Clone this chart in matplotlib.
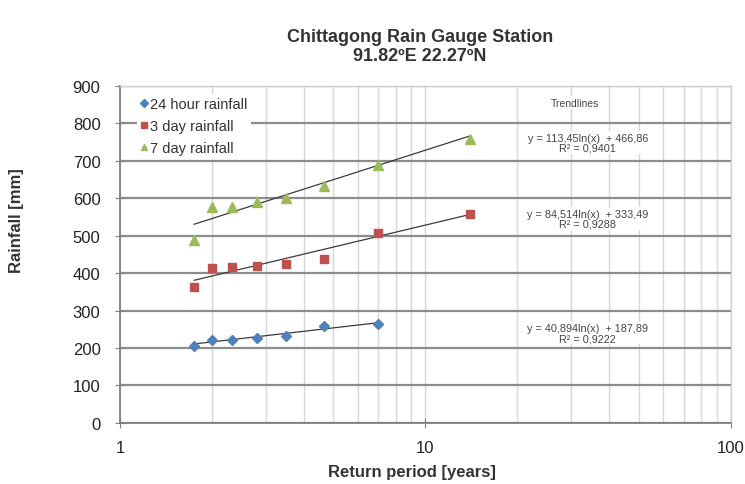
import numpy as np
import matplotlib
matplotlib.use("Agg")
from matplotlib import pyplot as plt
from matplotlib.ticker import LogLocator, NullFormatter

plt.rcParams["font.family"] = ["Liberation Sans", "DejaVu Sans"]

# return periods (years) and rainfall (mm)
period = [1.75, 2.0, 2.33, 2.8, 3.5, 4.67, 7.0, 14.0]
rain_24h = [204, 222, 221, 227, 232, 260, 264]
rain_3d = [364, 414, 416, 420, 424, 438, 507, 559]
rain_7d = [489, 576, 576, 591, 600, 633, 689, 759]

# trendline coefficients y = a ln(x) + b, as printed on the chart
trend_24h = (40.894, 187.89)
trend_3d = (84.514, 333.49)
trend_7d = (113.45, 466.86)
labels_trend = [
    "y = 40,894ln(x)  + 187,89\nR² = 0,9222",
    "y = 84,514ln(x)  + 333,49\nR² = 0,9288",
    "y = 113,45ln(x)  + 466,86\nR² = 0,9401",
]
label_y = [240, 545, 748]

c_blue = "#4F81BD"
c_red = "#C0504D"
c_green = "#9BBB59"

fig = plt.figure(figsize=(7.45, 4.85), dpi=100)
ax = fig.add_axes([0.161, 0.126, 0.820, 0.695])
ax.set_xscale("log")
ax.set_xlim(1, 100)
ax.set_ylim(0, 900)

# grid
ax.xaxis.set_minor_locator(LogLocator(base=10, subs=np.arange(2, 10)))
ax.xaxis.set_minor_formatter(NullFormatter())
ax.grid(True, which="both", axis="x", color="#d6d6d6", lw=1.0, zorder=0)
ax.set_yticks(np.arange(0, 901, 100))
ax.grid(True, which="major", axis="y", color="#8c8c8c", lw=1.6, zorder=0)

for s in ["top", "right"]:
    ax.spines[s].set_color("#d0d0d0")
    ax.spines[s].set_linewidth(1.0)
for s in ["left", "bottom"]:
    ax.spines[s].set_color("#808080")
    ax.spines[s].set_linewidth(1.3)

ax.tick_params(axis="both", which="major", direction="inout", length=7,
               color="#808080", labelsize=12, labelcolor="#222222")
ax.tick_params(axis="y", pad=10.5)
ax.tick_params(axis="x", which="minor", length=0)
ax.set_xticks([1, 10, 100])
ax.set_xticklabels(["1", "10", "100"])
ax.tick_params(axis="x", pad=9)

# trendlines
for xs, (a, b) in [(period[:7], trend_24h), (period, trend_3d), (period, trend_7d)]:
    xx = np.array([xs[0], xs[-1]])
    ax.plot(xx, a * np.log(xx) + b, color="#3a3a3a", lw=0.9, zorder=3)

ax.plot(period[:7], rain_24h, ls="none", marker="D", ms=5.5, color=c_blue,
        label="24 hour rainfall", zorder=4)
ax.plot(period, rain_3d, ls="none", marker="s", ms=5.5, color=c_red,
        label="3 day rainfall", zorder=4)
ax.plot(period, rain_7d, ls="none", marker="^", ms=6.5, color=c_green,
        label="7 day rainfall", zorder=4)

leg = ax.legend(loc="upper left", bbox_to_anchor=(0.02, 0.99), frameon=True,
                fontsize=10.5, handlelength=0.5, handletextpad=0.15,
                borderpad=0.25, labelspacing=0.55, borderaxespad=0.3,
                markerscale=0.75)
leg.get_frame().set_facecolor("white")
leg.get_frame().set_edgecolor("none")
leg.get_frame().set_alpha(1.0)
for t in leg.get_texts():
    t.set_color("#333333")

ax.text(31, 855, "Trendlines", ha="center", va="center", fontsize=7.5,
        color="#444444", zorder=5,
        bbox=dict(facecolor="white", edgecolor="none", pad=1))
for txt, yy in zip(labels_trend, label_y):
    ax.text(34, yy, txt, ha="center", va="center", fontsize=7.8,
            color="#444444", linespacing=1.0, zorder=5,
            bbox=dict(facecolor="white", edgecolor="none", pad=1))

fig.text(0.564, 0.903, "Chittagong Rain Gauge Station\n91.82ºE 22.27ºN",
         ha="center", va="center", fontsize=13, fontweight="bold",
         color="#333333", linespacing=1.1)
fig.text(412 / 745, 1 - 473 / 485, "Return period [years]", ha="center",
         va="center", fontsize=12, fontweight="bold", color="#333333")
fig.text(17 / 745, 1 - 221 / 485, "Rainfall [mm]", rotation=90, ha="center",
         va="center", fontsize=12, fontweight="bold", color="#333333")

plt.savefig("out.png", dpi=100)
plt.close()
